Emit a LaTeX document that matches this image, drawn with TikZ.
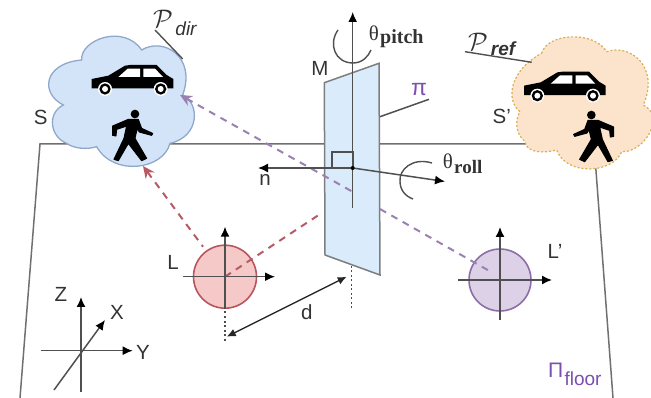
\documentclass[tikz,border=0pt]{standalone}
\usepackage{fontspec}
\setmainfont{Liberation Sans}
\newfontfamily\serifgr{Liberation Serif}
\usetikzlibrary{arrows.meta}
\definecolor{linegray}{HTML}{707070}
\definecolor{darkax}{HTML}{505050}
\definecolor{labelpurple}{HTML}{7A4FB0}
\definecolor{reddash}{HTML}{B85A66}
\definecolor{purpledash}{HTML}{9A82B0}
\definecolor{cloudblue}{HTML}{D3E4F8}
\definecolor{cloudedge}{HTML}{8FA8CC}
\definecolor{cloudpeach}{HTML}{FBE3CC}
\definecolor{peachedge}{HTML}{D9AE55}
\definecolor{planeblue}{HTML}{DAEBFB}
\definecolor{circlered}{HTML}{F5C9C7}
\definecolor{circlepurple}{HTML}{DDD1E8}
\definecolor{circleredge}{HTML}{B9555F}
\definecolor{circlepedge}{HTML}{8C6FA6}
\newcommand{\carshape}{%
  \fill[black] (0,42) -- (50,32) -- (100,2) .. controls (105,0) and (110,0) .. (115,0) -- (195,0) -- (225,30) -- (245,42) -- (245,70) -- (0,70) -- cycle;
  \fill[white] (80,36) -- (108,11) -- (145,11) -- (145,36) -- cycle;
  \fill[white] (155,11) -- (190,11) -- (214,36) -- (155,36) -- cycle;
  \foreach \wx in {40,207} {
    \fill[white] (\wx,72) circle (21);
    \fill[black] (\wx,72) circle (17);
    \fill[white] (\wx,72) circle (9);
  }
}
\newcommand{\walkershape}{%
  \fill[black] (68,10) circle (13);
  \filldraw[black,line width=1pt,line join=round] (1,46) -- (48,26) -- (78,26) -- (88,53) -- (121,68) -- (118,74) -- (81,64) -- (75,53) -- (68,83) -- (103,143) -- (88,150) -- (48,98) -- (18,150) -- (5,146) -- (35,83) -- (43,46) -- (13,56) -- (11,76) -- (1,74) -- cycle;
}
\tikzset{
  floorline/.style={draw=linegray,line width=1.5pt},
  axisline/.style={draw=darkax,line width=1.5pt},
  axisarrow/.style={axisline,-{Latex[length=10pt,width=9pt,color=black]}},
  reddashed/.style={draw=reddash,line width=2pt,dash pattern=on 7pt off 6pt},
  purpledashed/.style={draw=purpledash,line width=2pt,dash pattern=on 7pt off 6pt},
  lbl/.style={inner sep=0pt,font=\fontsize{20.5}{20.5}\selectfont,text=black!80},
  sub/.style={inner sep=0pt,font=\fontsize{19}{19}\selectfont,text=black!80},
}
\begin{document}
\begin{tikzpicture}[x=1pt,y=-1pt]
\useasboundingbox (0,0) rectangle (651,398);
% named anchors
\coordinate (floorTL) at (40,144);
\coordinate (floorBL) at (20,398);
\coordinate (floorTR) at (594,144);
\coordinate (floorBR) at (613,398);
\coordinate (pivot) at (352.7,168);
\coordinate (lc) at (225,276.7);
\coordinate (lpc) at (500,280);
% floor
\draw[floorline] (floorBL) -- (floorTL) -- (floorTR) -- (floorBR);
% cloud S
\begin{scope}[scale=1/3]
\draw[draw=cloudedge,fill=cloudblue,line width=1.3pt]
  (245,180) .. controls (240,120) and (370,70) .. (425,150)
  .. controls (490,110) and (590,170) .. (548,285)
  .. controls (600,310) and (600,410) .. (510,430)
  .. controls (490,510) and (340,530) .. (290,440)
  .. controls (260,450) and (220,445) .. (200,430)
  .. controls (150,410) and (140,340) .. (190,315)
  .. controls (120,280) and (130,190) .. (245,180) -- cycle;
\end{scope}
% cloud S'
\begin{scope}[shift={(440,10)},scale=1/3]
\draw[draw=peachedge,fill=cloudpeach,line width=1.2pt,dash pattern=on 2pt off 2pt]
  (305,130) .. controls (320,70) and (460,60) .. (500,125)
  .. controls (570,100) and (660,170) .. (610,285)
  .. controls (680,320) and (610,430) .. (545,425)
  .. controls (520,490) and (380,500) .. (350,420)
  .. controls (310,430) and (260,430) .. (255,395)
  .. controls (225,370) and (225,330) .. (240,305)
  .. controls (195,270) and (210,180) .. (305,130) -- cycle;
\end{scope}
% car and walker in S
\begin{scope}[shift={(91.7,65)},scale=1/3] \carshape \end{scope}
\begin{scope}[shift={(112.3,110.7)},scale=1/3] \walkershape \end{scope}
% car and walker in S'
\begin{scope}[shift={(524,71.7)},scale=1/3] \carshape \end{scope}
\begin{scope}[shift={(614,111.7)},xscale=-1/3,yscale=1/3] \walkershape \end{scope}
% circles
\draw[draw=circleredge,fill=circlered,line width=1.6pt] (lc) circle (31.5);
\draw[draw=circlepedge,fill=circlepurple,line width=1.6pt] (lpc) circle (31);
% dashed rays behind the mirror
\coordinate (tipS) at (143,166);
\coordinate (rayR) at (203,246.7);
\draw[reddashed,{Stealth[length=12pt,width=11pt,color=reddash]}-] (tipS) -- (rayR);
\coordinate (redPlane) at (321.7,213);
\draw[reddashed] (lc) -- (redPlane);
% mirror plane
\node[inner sep=0pt,minimum size=0pt] (mirrorA) at (324.3,82.7) {};
\node[inner sep=0pt,minimum size=0pt] (mirrorB) at (379,63.3) {};
\node[inner sep=0pt,minimum size=0pt] (mirrorC) at (380,275) {};
\node[inner sep=0pt,minimum size=0pt] (mirrorD) at (325,255) {};
\draw[draw=linegray!90,fill=planeblue,line width=1.5pt] (mirrorA.center) -- (mirrorB.center) -- (mirrorC.center) -- (mirrorD.center) -- cycle;
% purple ray
\coordinate (tipP) at (180,95);
\coordinate (mirrorHit) at (353,192);
\coordinate (mirrorOut) at (380,209);
\coordinate (lpRay) at (493,273);
\draw[purpledashed,{Stealth[length=12pt,width=11pt,color=purpledash]}-] (tipP) -- (mirrorHit);
\draw[purpledashed] (mirrorOut) -- (lpRay);
% mirror axes
\coordinate (pitchTop) at (352.7,12);
\coordinate (pitchBot) at (352.7,208);
\coordinate (nTip) at (258,168);
\coordinate (rollTip) at (445,181.5);
\draw[axisarrow] (pitchBot) -- (pitchTop);
\draw[axisarrow] (pivot) -- (nTip);
\draw[axisarrow] (pivot) -- (rollTip);
\draw[draw=darkax,line width=1.6pt] (331.7,168) -- (331.7,152) -- (352.7,152) -- (352.7,168);
\fill[black] (pivot) circle (2);
\draw[draw=darkax,line width=1.4pt] (338,30) .. controls (328,44) and (335,63) .. (353,63) .. controls (362,63) and (368,57) .. (371,50);
\draw[draw=darkax,line width=1.4pt] (432,163) .. controls (412,157) and (399,170) .. (400,181) .. controls (400,190) and (405,196) .. (413,199);
\coordinate (piStart) at (380,116.7);
\coordinate (piEnd) at (429,99.3);
\draw[axisline] (piStart) -- (piEnd);
\coordinate (dotA) at (351.7,266);
\coordinate (dotB) at (351.7,310);
\draw[draw=black!70,line width=1.4pt,dash pattern=on 2pt off 2.5pt] (dotA) -- (dotB);
% L axes
\draw[axisarrow] (183,276.7) -- (275,276.7);
\draw[axisarrow] (225,307) -- (225,226.7);
\draw[draw=black!70,line width=1.4pt,dash pattern=on 2pt off 2.5pt] (225,307) -- (225,342);
% L' axes
\draw[axisarrow] (458,280) -- (552,280);
\draw[axisarrow] (500,320) -- (500,227);
% d
\coordinate (dA) at (226.7,336.7);
\coordinate (dB) at (346.7,276.7);
\draw[draw=black!85,line width=1.4pt,{Latex[length=9pt,width=8pt]}-{Latex[length=9pt,width=8pt]}] (dA) -- (dB);
% world axes
\draw[axisarrow] (81,391.7) -- (81,297);
\draw[axisarrow] (40.7,350.7) -- (132.7,350.7);
\draw[axisarrow] (54,390) -- (105,320);
% P leaders
\coordinate (pdA) at (155,30);
\coordinate (pdB) at (182.7,59);
\draw[draw=darkax,line width=1.4pt] (pdA) -- (pdB);
\coordinate (prA) at (465,51.7);
\coordinate (prB) at (531.7,62.3);
\draw[draw=darkax,line width=1.4pt] (prA) -- (prB);
% labels
\node[lbl] (labS) at (40.7,117) {S};
\node[lbl] (labSp) at (501.7,116.7) {S'};
\node[lbl] (labM) at (320,68) {M};
\node[lbl] (labL) at (173,262.7) {L};
\node[lbl] (labLp) at (555,251) {L'};
\node[lbl] (labn) at (265,180) {n};
\node[lbl] (labd) at (306.7,311.7) {d};
\node[lbl] (labZ) at (61,294) {Z};
\node[lbl] (labX) at (117,312) {X};
\node[lbl] (labY) at (143,352.7) {Y};
\node[lbl,font=\fontsize{23}{23}\selectfont,text=labelpurple] (labpi) at (419,90) {π};
\node[lbl,font=\fontsize{21}{21}\selectfont,text=labelpurple] (labPi) at (555.7,370.7) {Π};
\node[sub,text=labelpurple] (labfloor) at (583,378.5) {floor};
\node[inner sep=0pt,scale=1.02,text=black!80] (labPd) at (163,19) {\Huge$\mathcal{P}$};
\node[sub,font=\fontsize{19}{19}\selectfont\itshape] (labdir) at (186,29) {dir};
\node[inner sep=0pt,scale=1.02,text=black!80] (labPr) at (478,42) {\Huge$\mathcal{P}$};
\node[sub,font=\fontsize{19}{19}\selectfont\itshape\bfseries] (labref) at (503,49) {ref};
\node[sub,font=\serifgr\fontsize{21}{21}\selectfont] (labth1) at (374,33) {θ};
\node[sub,font=\serifgr\bfseries\fontsize{20}{20}\selectfont,anchor=west] (labpitch) at (380,39) {pitch};
\node[sub,font=\serifgr\fontsize{21}{21}\selectfont] (labth2) at (448,161.7) {θ};
\node[sub,font=\serifgr\bfseries\fontsize{19}{19}\selectfont,anchor=west] (labroll) at (454,167) {roll};
\end{tikzpicture}
\end{document}
